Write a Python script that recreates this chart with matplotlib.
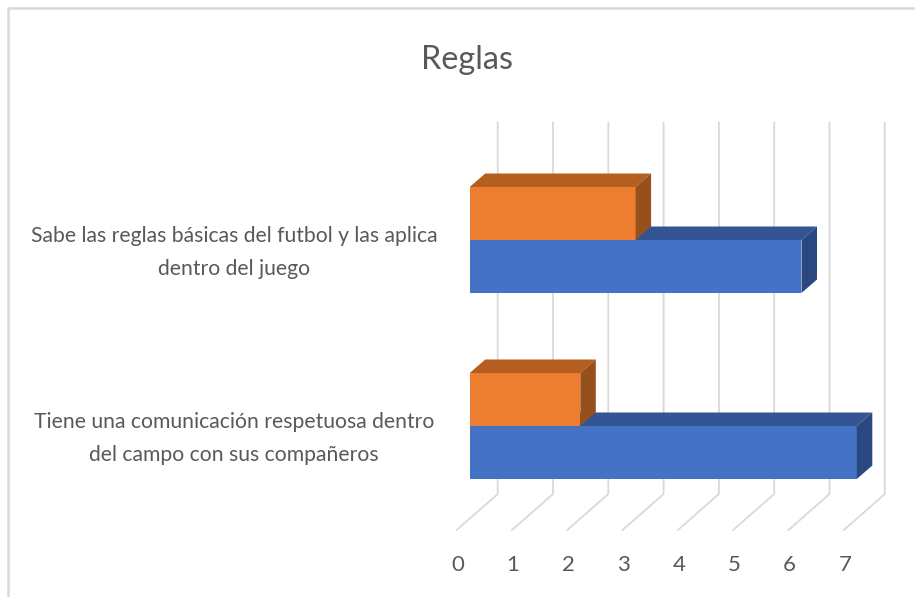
import matplotlib
matplotlib.use('Agg')
import matplotlib.pyplot as plt
from matplotlib.lines import Line2D
from matplotlib.transforms import ScaledTranslation

plt.rcParams['font.family'] = ['Lato', 'DejaVu Sans']

# data, bottom category first
categories = ['Tiene una comunicación respetuosa dentro\ndel campo con sus compañeros',
              'Sabe las reglas básicas del futbol y las aplica\ndentro del juego']
blue_values = [7, 6]
orange_values = [2, 3]
x_ticks = [0, 1, 2, 3, 4, 5, 6, 7]

W, H = 915, 597
PX_X = 55.3   # pixels per x unit
PX_Y = 186.0  # pixels per category

# 3d look, in data units
depth_x = 15.5 / PX_X
depth_y = 13.5 / PX_Y
bar_h = 53 / PX_Y
grid_back = 28 / PX_X
floor_front = -13 / PX_X
grid_rise = 36 / PX_Y

fig = plt.figure(figsize=(W / 100, H / 100), dpi=100, facecolor='white')
left, right, top, bottom = 469.7, 469.7 + 8 * PX_X, 122.7, 530
ax = fig.add_axes([left / W, 1 - bottom / H, (right - left) / W, (bottom - top) / H])
ax.set_xlim(0, 8)
ax.set_ylim((426 - bottom) / PX_Y, (426 - top) / PX_Y)
for s in ax.spines.values():
    s.set_visible(False)

# back wall + floor gridlines
y0, y1 = ax.get_ylim()
for k in x_ticks:
    ax.plot([k + floor_front, k + grid_back, k + grid_back],
            [y0, y0 + grid_rise, y1],
            color='#d9d9d9', lw=1.3, clip_on=False, zorder=1)


def bar3d(y, value, front, top_col, side_col):
    ax.barh(y, value, height=bar_h, align='edge', color=front, zorder=3)
    ax.fill([0, value, value + depth_x, depth_x],
            [y + bar_h, y + bar_h, y + bar_h + depth_y, y + bar_h + depth_y],
            color=top_col, lw=0, zorder=3)
    ax.fill([value, value + depth_x, value + depth_x, value],
            [y, y + depth_y, y + bar_h + depth_y, y + bar_h],
            color=side_col, lw=0, zorder=3)


for i in range(len(categories)):
    bar3d(i - bar_h, blue_values[i], '#4472C4', '#335593', '#2A4780')
    bar3d(i, orange_values[i], '#ED7D31', '#B45E20', '#974F1B')

ax.set_xticks(x_ticks)
ax.set_xticklabels([str(v) for v in x_ticks])
ax.set_yticks(range(len(categories)))
ax.set_yticklabels(categories, ha='center', ma='center', linespacing=1.85)
ax.tick_params(axis='x', length=0, pad=18, labelsize=16, labelcolor='#595959')
ax.tick_params(axis='y', length=0, pad=0, labelsize=15.2, labelcolor='#595959')

# labels sit off from the front plane
shift_x = ScaledTranslation(-12 / 100, 0, fig.dpi_scale_trans)
for lab in ax.get_xticklabels():
    lab.set_transform(lab.get_transform() + shift_x)
shift_y = ScaledTranslation(-235.5 / 100, -3.5 / 100, fig.dpi_scale_trans)
for lab in ax.get_yticklabels():
    lab.set_transform(lab.get_transform() + shift_y)

fig.text(467 / W, 1 - 60 / H, 'Reglas', ha='center', va='center',
         fontsize=23.3, color='#595959')

# chart frame, only left and top show
fig.add_artist(Line2D([8.2 / W, 8.2 / W, 1], [0, 1 - 8.2 / H, 1 - 8.2 / H],
                      color='#d9d9d9', lw=1.8))

fig.savefig('out.png', dpi=100)
